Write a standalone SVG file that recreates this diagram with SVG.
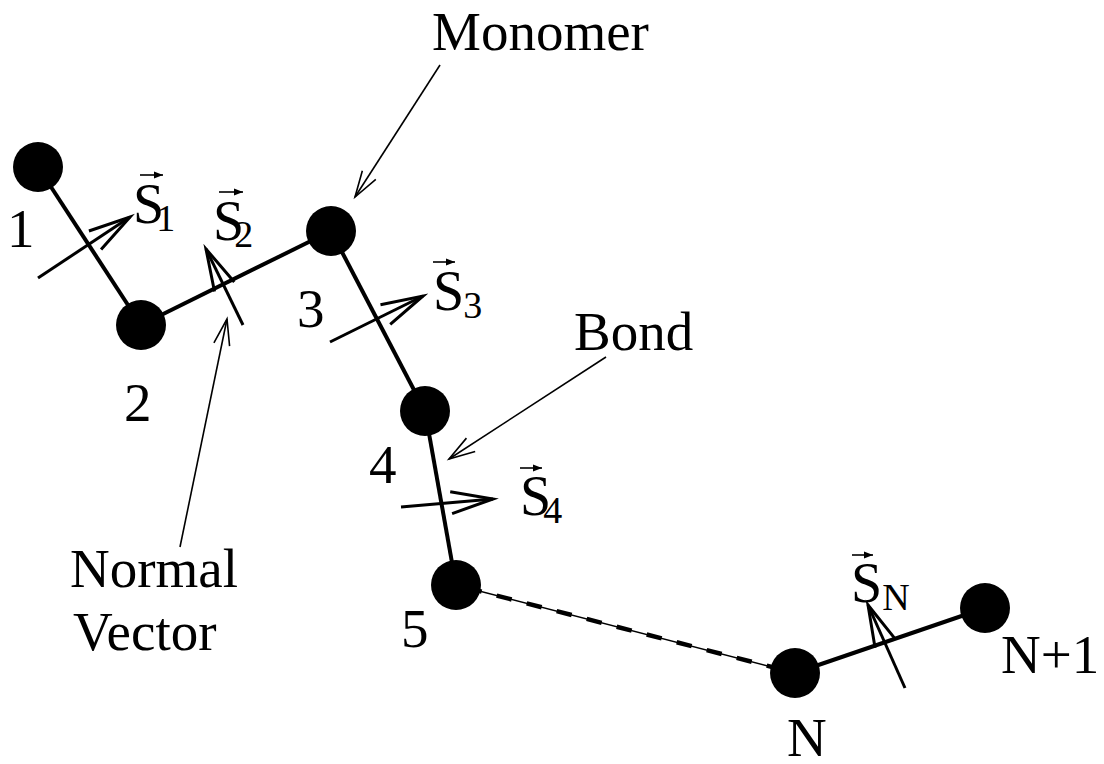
<svg xmlns="http://www.w3.org/2000/svg" width="1104" height="764" viewBox="0 0 1104 764">
<style>
  text { font-family: "Liberation Serif", "Times New Roman", serif; fill: #000; }
  .lbl { font-size: 55px; }
  .s { font-size: 56px; }
  .sub { font-size: 38px; }
  .bead { fill: #000; }
  .bond { stroke: #000; stroke-width: 4; fill: none; stroke-linecap: butt; }
  .thin { stroke: #000; stroke-width: 1.5; fill: none; }
  .dash { stroke: #000; stroke-width: 4.5; fill: none; stroke-dasharray: 15.5 15.5; stroke-dashoffset: 20; }
  .normal { stroke: #000; stroke-width: 3; fill: none; marker-end: url(#bigV); }
  .pointer { stroke: #000; stroke-width: 1.6; fill: none; marker-end: url(#smallV); }
  .vec { stroke: #000; stroke-width: 1.6; fill: none; marker-end: url(#tri); }
</style>
<defs>
  <marker id="bigV" markerUnits="userSpaceOnUse" orient="auto" refX="0" refY="0" markerWidth="60" markerHeight="40" viewBox="-50 -20 60 40" overflow="visible">
    <path d="M-42,-11 L0,0 L-42,11" fill="none" stroke="#000" stroke-width="3" stroke-linejoin="miter"/>
  </marker>
  <marker id="smallV" markerUnits="userSpaceOnUse" orient="auto" refX="0" refY="0" markerWidth="40" markerHeight="30" viewBox="-30 -15 40 30" overflow="visible">
    <path d="M-26,-8 L0,0 L-26,8" fill="none" stroke="#000" stroke-width="1.6"/>
  </marker>
  <marker id="tri" markerUnits="userSpaceOnUse" orient="auto" refX="0" refY="0" markerWidth="12" markerHeight="10" viewBox="-10 -5 12 10" overflow="visible">
    <path d="M-9,-3.5 L0,0 L-9,3.5 Z" fill="#000"/>
  </marker>
</defs>

<g id="connectors">
  <line class="bond" x1="38" y1="167" x2="141" y2="325"/>
  <line class="bond" x1="141" y1="325" x2="331" y2="231"/>
  <line class="bond" x1="331" y1="231" x2="425" y2="411"/>
  <line class="bond" x1="425" y1="411" x2="456" y2="585"/>
  <line class="thin" x1="456" y1="585" x2="795" y2="673"/>
  <line class="dash" x1="456" y1="585" x2="795" y2="673"/>
  <line class="bond" x1="795" y1="673" x2="985" y2="608"/>
</g>

<g id="node-1"><circle class="bead" cx="38" cy="167" r="25"/><text class="lbl" x="7" y="247">1</text></g>
<g id="node-2"><circle class="bead" cx="141" cy="325" r="25"/><text class="lbl" x="124" y="421">2</text></g>
<g id="node-3"><circle class="bead" cx="331" cy="231" r="25"/><text class="lbl" x="297" y="327">3</text></g>
<g id="node-4"><circle class="bead" cx="425" cy="411" r="25"/><text class="lbl" x="369" y="483">4</text></g>
<g id="node-5"><circle class="bead" cx="456" cy="585" r="25"/><text class="lbl" x="401" y="647">5</text></g>
<g id="node-N"><circle class="bead" cx="795" cy="673" r="25"/><text class="lbl" x="787" y="756">N</text></g>
<g id="node-N1"><circle class="bead" cx="985" cy="608" r="25"/><text class="lbl" x="1001" y="673">N+1</text></g>

<g id="normal-vectors">
  <g id="S1">
    <line class="normal" x1="38" y1="278" x2="130" y2="217"/>
    <text class="s" x="133" y="223">S<tspan class="sub" dx="-8" dy="8">1</tspan></text>
    <line class="vec" x1="140" y1="175" x2="163" y2="175"/>
  </g>
  <g id="S2">
    <line class="normal" x1="243" y1="325" x2="206" y2="249"/>
    <text class="s" x="213" y="240">S<tspan class="sub" dx="-10" dy="7">2</tspan></text>
    <line class="vec" x1="219" y1="192" x2="243" y2="192"/>
  </g>
  <g id="S3">
    <line class="normal" x1="330" y1="342" x2="423" y2="296"/>
    <text class="s" x="433" y="310">S<tspan class="sub" dx="-1" dy="8">3</tspan></text>
    <line class="vec" x1="433" y1="262" x2="455" y2="262"/>
  </g>
  <g id="S4">
    <line class="normal" x1="401" y1="507" x2="493" y2="499"/>
    <text class="s" x="520" y="515">S<tspan class="sub" dx="-8" dy="8">4</tspan></text>
    <line class="vec" x1="520" y1="468" x2="542" y2="468"/>
  </g>
  <g id="SN">
    <line class="normal" x1="905" y1="688" x2="868" y2="605"/>
    <text class="s" x="851" y="602">S<tspan class="sub" dx="0" dy="8">N</tspan></text>
    <line class="vec" x1="852" y1="555" x2="873" y2="555"/>
  </g>
</g>

<g id="label-monomer">
  <text class="lbl" x="432" y="50">Monomer</text>
  <line class="pointer" x1="440" y1="65" x2="355" y2="197"/>
</g>
<g id="label-bond">
  <text class="lbl" x="574" y="350">Bond</text>
  <line class="pointer" x1="606" y1="357" x2="449" y2="459"/>
</g>
<g id="label-normal-vector">
  <text class="lbl" x="70" y="587">Normal</text>
  <text class="lbl" x="73" y="650">Vector</text>
  <line class="pointer" x1="180" y1="547" x2="227" y2="319"/>
</g>
</svg>
